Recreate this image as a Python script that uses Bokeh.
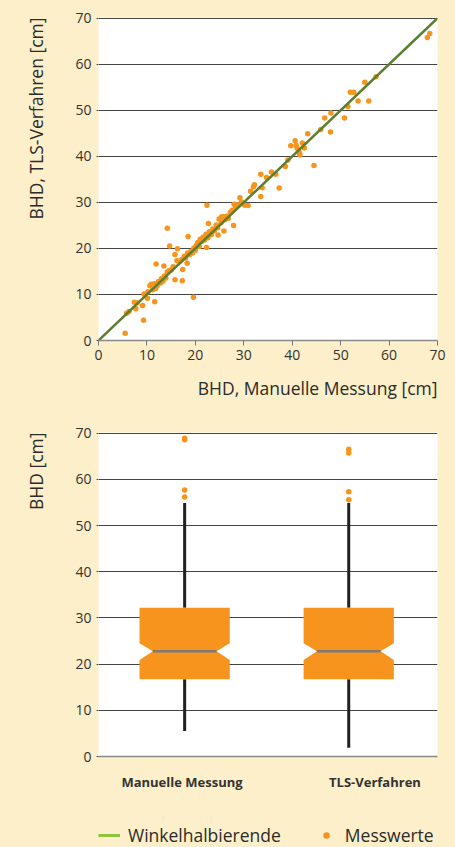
from bokeh.plotting import figure
from bokeh.layouts import column
from bokeh.models import (Range1d, FixedTicker, Title, Legend, LegendItem,
                          GlobalInlineStyleSheet)
from bokeh.embed import file_html
from bokeh.resources import INLINE

# ---------------- data ----------------
# scatter: manual DBH (x) vs TLS DBH (y), cm
manual_bhd = [5.5, 9.3, 9.1, 7.4, 7.7, 6.3, 5.8, 11.6, 19.6, 9.4, 10.1, 11.9, 14.2, 14.7,
              13.5, 15.8, 17.3, 17.4, 16.2, 15.8, 16.3, 18.5, 18.3, 22.4, 22.7, 27.9, 22.3,
              25.9, 24.7, 28.0, 29.2, 30.2, 30.9, 31.4, 32.0, 32.2, 33.5, 33.5, 33.8, 34.7,
              35.7, 36.6, 37.3, 38.6, 39.1, 39.7, 40.6, 40.8, 41.0, 41.5, 41.6, 41.3, 42.1,
              42.5, 43.2, 44.5, 45.9, 46.7, 47.9, 48.0, 50.8, 51.5, 52.0, 52.7, 53.6, 55.0,
              55.8, 57.3, 67.9, 68.4,
              8.0, 9.6, 10.2, 10.6, 10.9, 11.2, 11.5, 11.8, 12.1, 12.4, 12.8, 13.0, 13.3,
              13.6, 13.9, 14.2, 14.6, 15.0, 15.4, 16.8, 17.2, 17.7, 18.0, 18.4, 18.8, 19.1,
              19.4, 19.7, 20.0, 20.2, 20.5, 20.8, 21.0, 21.3, 21.6, 21.9, 22.2, 22.6, 22.9,
              23.3, 23.6, 23.9, 24.3, 24.6, 24.9, 25.3, 25.7, 26.1, 26.4, 26.8, 27.2, 27.6,
              28.3, 28.8, 29.5, 25.4, 26.0]
tls_bhd = [1.6, 4.4, 7.6, 8.3, 6.9, 6.3, 5.9, 8.4, 9.4, 10.1, 9.2, 16.6, 24.4, 20.5,
           16.2, 13.2, 13.0, 15.4, 17.3, 18.7, 19.9, 22.6, 16.8, 29.4, 25.4, 25.0, 20.2,
           23.8, 22.9, 29.6, 31.0, 29.4, 29.3, 32.4, 33.4, 33.8, 36.1, 31.3, 33.2, 35.4,
           36.6, 36.1, 33.1, 37.8, 39.2, 42.3, 43.4, 42.4, 41.8, 40.7, 40.3, 41.2, 42.9,
           41.8, 44.9, 38.0, 45.8, 48.3, 45.3, 49.4, 48.3, 50.8, 53.9, 53.9, 52.0, 56.1,
           52.0, 57.3, 65.8, 66.7,
           8.2, 9.9, 10.6, 11.9, 12.2, 11.0, 12.3, 11.3, 11.9, 12.8, 12.5, 13.4, 12.9,
           14.0, 13.6, 14.9, 15.2, 15.3, 16.0, 17.2, 17.6, 18.3, 17.9, 19.0, 18.6, 19.4,
           19.0, 20.1, 19.6, 20.7, 21.3, 20.4, 22.0, 21.5, 22.4, 21.8, 23.1, 22.3, 23.6,
           23.0, 24.2, 23.8, 25.1, 24.5, 26.4, 25.6, 26.9, 26.2, 27.0, 26.5, 27.8, 28.3,
           28.9, 29.5, 30.1, 26.8, 26.6]
bisector = [0, 70]
axis_ticks = [0, 10, 20, 30, 40, 50, 60, 70]

# box plot
categories = ["Manuelle Messung", "TLS-Verfahren"]
cat_pos = [1, 2]
q1 = [16.7, 16.7]
q3 = [32.2, 32.2]
median = [22.8, 22.8]
notch_low = [20.9, 20.9]
notch_high = [24.5, 24.5]
whisker_low = [5.5, 1.9]
whisker_high = [54.9, 54.9]
outliers_manual = [56.2, 57.7, 68.6, 68.9]
outliers_tls = [55.6, 57.3, 65.7, 66.5]

legend_labels = ["Winkelhalbierende", "Messwerte"]

# ---------------- style ----------------
CREAM = "#FCEFC9"
ORANGE = "#F7941D"
GREEN = "#5B7F2E"
LGREEN = "#8CC63F"
FONT = "Open Sans"
TXT = "#2B2B2B"
LBL = "17.5px"
W = 455
NAN = float("nan")
label_shift = [-0.016, 0.16]   # category labels sit slightly off the box centres

def style(p):
    p.border_fill_color = CREAM
    p.background_fill_color = "white"
    p.outline_line_color = None
    p.min_border_left = 97
    p.min_border_right = 18
    p.xgrid.grid_line_color = None
    p.ygrid.grid_line_color = "#454545"
    p.ygrid.grid_line_width = 1.2
    p.ygrid.ticker = FixedTicker(ticks=axis_ticks[1:])
    for ax in (p.xaxis[0], p.yaxis[0]):
        ax.major_label_text_font = FONT
        ax.major_label_text_font_size = "14px"
        ax.major_label_text_color = "#333333"
        ax.minor_tick_line_color = None
    p.yaxis.ticker = FixedTicker(ticks=axis_ticks)
    p.yaxis.axis_line_color = None
    p.yaxis.major_tick_in = 0
    p.yaxis.major_tick_out = 2
    p.yaxis.major_tick_line_color = "#555555"
    p.yaxis.major_label_standoff = 5
    p.xaxis.axis_line_color = "#8a8a8a"
    p.xaxis.axis_line_width = 1.5

def side_title(text, standoff, align="right", valign="top"):
    return Title(text=text, align=align, vertical_align=valign, standoff=standoff,
                 offset=0, text_font=FONT, text_font_size=LBL,
                 text_font_style="normal", text_color=TXT)

# ---------------- top: scatter ----------------
p1 = figure(width=W, height=413, output_backend="svg", toolbar_location=None,
            x_range=Range1d(0, 70), y_range=Range1d(0, 70.15))
style(p1)
p1.min_border_top = 17
p1.min_border_bottom = 73
p1.xaxis.ticker = FixedTicker(ticks=axis_ticks)
p1.xaxis.major_tick_in = 0
p1.xaxis.major_tick_out = 5
p1.xaxis.major_tick_line_color = "#777777"
p1.xaxis.major_label_standoff = 4

p1.scatter(manual_bhd, tls_bhd, size=5.5, color=ORANGE, line_color=None)
p1.line(bisector, bisector, line_color=GREEN, line_width=2.5)

p1.add_layout(side_title("BHD, TLS-Verfahren [cm]", 46), "left")
p1.add_layout(side_title("BHD, Manuelle Messung [cm]", 22, valign="bottom"), "below")

# ---------------- bottom: notched box plot ----------------
p2 = figure(width=W, height=407, output_backend="svg", toolbar_location=None,
            x_range=Range1d(0.475, 2.541), y_range=Range1d(0, 70.15))
style(p2)
p2.min_border_top = 19
p2.min_border_bottom = 64
tick_pos = [c + s for c, s in zip(cat_pos, label_shift)]
p2.xaxis.ticker = FixedTicker(ticks=tick_pos)
p2.xaxis.major_label_overrides = {pos: name for pos, name in zip(tick_pos, categories)}
p2.xaxis.major_tick_line_color = None
p2.xaxis.major_label_text_font_size = "13px"
p2.xaxis.major_label_text_font_style = "bold"
p2.xaxis.major_label_text_color = "#333333"
p2.xaxis.major_label_standoff = 10

hw = 0.275   # half box width
nd = 0.081   # notch depth
xs, ys = [], []
for c, a, b, m, nl, nh in zip(cat_pos, q1, q3, median, notch_low, notch_high):
    xs.append([c - hw, c + hw, c + hw, c + hw - nd, c + hw, c + hw,
               c - hw, c - hw, c - hw + nd, c - hw])
    ys.append([b, b, nh, m, nl, a, a, nl, m, nh])

p2.segment(x0=cat_pos, y0=q3, x1=cat_pos, y1=whisker_high, line_color="#231F20", line_width=3)
p2.segment(x0=cat_pos, y0=q1, x1=cat_pos, y1=whisker_low, line_color="#231F20", line_width=3)
p2.patches(xs, ys, fill_color=ORANGE, line_color=None)
p2.segment(x0=[c - hw + nd for c in cat_pos], y0=median,
           x1=[c + hw - nd for c in cat_pos], y1=median,
           line_color="#7A7A7A", line_width=2.5)
p2.scatter([cat_pos[0]] * len(outliers_manual), outliers_manual, size=5.5,
           color=ORANGE, line_color=None)
p2.scatter([cat_pos[1]] * len(outliers_tls), outliers_tls, size=5.5,
           color=ORANGE, line_color=None)

p2.add_layout(side_title("BHD [cm]", 46), "left")

# ---------------- legend strip ----------------
p3 = figure(width=W, height=27, output_backend="svg", toolbar_location=None,
            x_range=Range1d(0, 1), y_range=Range1d(0, 1),
            x_axis_type=None, y_axis_type=None)
p3.min_border_left = 0
p3.min_border_right = 0
p3.min_border_top = 0
p3.min_border_bottom = 0
p3.grid.visible = False
p3.outline_line_color = None
p3.background_fill_color = CREAM
p3.border_fill_color = CREAM
r_line = p3.line(x=[NAN, NAN], y=[NAN, NAN], line_color=LGREEN, line_width=3)
r_dot = p3.scatter(x=[NAN], y=[NAN], size=7, color=ORANGE, line_color=None)
legend = Legend(items=[LegendItem(label=legend_labels[0], renderers=[r_line]),
                       LegendItem(label=legend_labels[1], renderers=[r_dot])],
                orientation="horizontal", location=(0, 0),
                background_fill_alpha=0, border_line_color=None,
                label_text_font=FONT, label_text_font_size=LBL,
                label_text_color=TXT, glyph_width=22, glyph_height=16,
                label_height=16, label_standoff=8, spacing=34, padding=0, margin=0)
p3.add_layout(legend)

css = "html,body{margin:0;padding:0;overflow:hidden;background:%s;}" % CREAM
layout = column(p1, p2, p3, spacing=0, stylesheets=[GlobalInlineStyleSheet(css=css)])

open("out.html", "w").write(file_html(layout, INLINE))
